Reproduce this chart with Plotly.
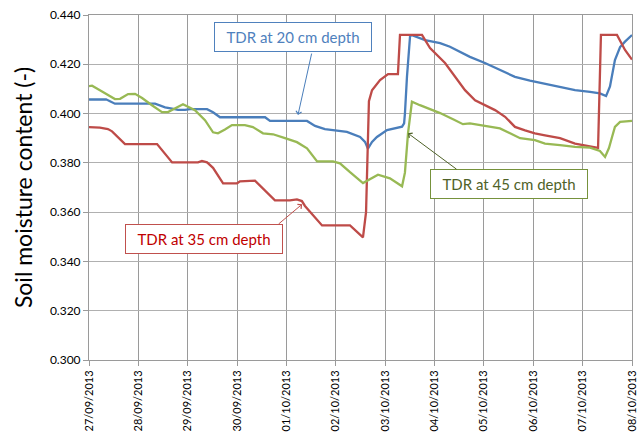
import pandas as pd
import plotly.graph_objects as go

START = pd.Timestamp("2013-09-27")

# hours since 27/09/2013 00:00 and soil moisture readings
hours_20 = [0, 8.3, 10.2, 12.6, 32.1, 37.0, 40.4, 43.3, 46.7, 49.1, 57.4, 60.3, 63.7,
            71.5, 73.4, 85.6, 88.0, 106.0, 109.9, 114.7, 119.6, 125.4, 131.8, 134.2,
            135.6, 137.6, 140.0, 144.9, 152.2, 153.2, 153.6, 154.6, 156.1, 157.0,
            163.4, 170.7, 175.5, 185.2, 192.5, 199.8, 207.1, 214.4, 221.7, 229.0,
            236.3, 243.6, 248.4, 251.4, 253.3, 255.7, 258.2, 260.6, 264.0]
tdr_20 = [0.4057, 0.4058, 0.4050, 0.4040, 0.4040, 0.4025, 0.4020, 0.4015, 0.4015,
          0.4018, 0.4018, 0.4005, 0.3985, 0.3985, 0.3988, 0.3985, 0.3970, 0.3970,
          0.3950, 0.3937, 0.3932, 0.3926, 0.3905, 0.3885, 0.3858, 0.3885, 0.3905,
          0.3933, 0.3947, 0.3960, 0.4000, 0.4150, 0.4315, 0.4318, 0.4298, 0.4286,
          0.4271, 0.4230, 0.4205, 0.4176, 0.4149, 0.4134, 0.4122, 0.4109, 0.4095,
          0.4088, 0.4082, 0.4071, 0.4110, 0.4217, 0.4270, 0.4292, 0.4319]

hours_35 = [0, 5.3, 9.2, 11.2, 17.5, 33.1, 40.4, 53.0, 54.9, 57.4, 60.3, 65.2, 72.0,
            73.4, 80.7, 84.1, 90.4, 97.7, 101.1, 103.5, 105.0, 113.3, 126.9, 133.2,
            134.7, 136.1, 137.6, 141.5, 145.4, 150.2, 151.2, 161.9, 165.8, 173.1,
            177.9, 182.8, 187.7, 192.5, 197.4, 202.3, 207.1, 212.0, 216.8, 221.7,
            229.0, 236.3, 243.6, 247.5, 248.9, 256.7, 260.6, 264.0]
tdr_35 = [0.3945, 0.3943, 0.3937, 0.3928, 0.3876, 0.3876, 0.3802, 0.3802, 0.3808,
          0.3802, 0.3780, 0.3717, 0.3717, 0.3725, 0.3728, 0.3700, 0.3648, 0.3648,
          0.3652, 0.3645, 0.3625, 0.3546, 0.3546, 0.3498, 0.3600, 0.4050, 0.4095,
          0.4136, 0.4160, 0.4160, 0.4319, 0.4319, 0.4266, 0.4205, 0.4148, 0.4095,
          0.4054, 0.4034, 0.4014, 0.3987, 0.3946, 0.3932, 0.3920, 0.3912, 0.3900,
          0.3878, 0.3867, 0.3861, 0.4319, 0.4319, 0.4258, 0.4219]

hours_45 = [0, 1.5, 5.3, 9.2, 12.6, 15.1, 19.0, 22.4, 25.8, 30.6, 35.5, 38.4, 41.8,
            45.7, 51.5, 56.4, 60.3, 62.7, 66.1, 69.5, 75.8, 79.7, 84.6, 89.5, 95.3,
            101.1, 106.0, 110.9, 118.6, 122.0, 126.9, 133.2, 140.5, 146.3, 152.2,
            153.6, 155.1, 157.0, 160.9, 170.7, 177.0, 181.8, 185.2, 190.1, 194.9,
            199.8, 204.7, 209.6, 216.8, 221.7, 229.0, 236.3, 243.6, 248.4, 250.9,
            252.8, 254.3, 255.7, 258.2, 264.0]
tdr_45 = [0.4111, 0.4113, 0.4095, 0.4075, 0.4059, 0.4060, 0.4079, 0.4080, 0.4063,
          0.4034, 0.4006, 0.4006, 0.4022, 0.4038, 0.4014, 0.3973, 0.3924, 0.3920,
          0.3935, 0.3953, 0.3953, 0.3945, 0.3920, 0.3916, 0.3900, 0.3884, 0.3859,
          0.3806, 0.3806, 0.3798, 0.3762, 0.3718, 0.3752, 0.3737, 0.3705, 0.3760,
          0.3920, 0.4048, 0.4034, 0.4002, 0.3977, 0.3957, 0.3960, 0.3953, 0.3949,
          0.3940, 0.3920, 0.3900, 0.3892, 0.3878, 0.3872, 0.3865, 0.3862, 0.3848,
          0.3824, 0.3860, 0.3905, 0.3946, 0.3966, 0.3970]

y_ticks = [0.300, 0.320, 0.340, 0.360, 0.380, 0.400, 0.420, 0.440]


def to_time(hours):
    return START + pd.to_timedelta(hours, unit="h")


BLUE = "#4A7EBB"
RED = "#BE4B48"
GREEN = "#98B954"
FONT = "Lato, 'Open Sans', sans-serif"

fig = go.Figure()
for hrs, vals, col, name in [(hours_20, tdr_20, BLUE, "TDR at 20 cm depth"),
                             (hours_35, tdr_35, RED, "TDR at 35 cm depth"),
                             (hours_45, tdr_45, GREEN, "TDR at 45 cm depth")]:
    fig.add_trace(go.Scatter(
        x=to_time(hrs), y=vals, mode="lines", name=name,
        line=dict(color=col, width=2.3)
    ))

# label boxes (no arrows) and separate arrows
boxes = [
    ("TDR at 20 cm depth", 0.3757, 0.9348, "#4F81BD", "#4F81BD"),
    ("TDR at 35 cm depth", 0.2118, 0.351, "#C00000", "#C0504D"),
    ("TDR at 45 cm depth", 0.7735, 0.5101, "#4F6228", "#76923C"),
]
for text, px, py, tcol, bcol in boxes:
    fig.add_annotation(
        x=px, y=py, xref="paper", yref="paper", text=text, showarrow=False,
        font=dict(family=FONT, size=15, color=tcol),
        bgcolor="white", bordercolor=bcol, borderwidth=1, borderpad=3,
        width=150, height=22, xanchor="center", yanchor="middle"
    )

arrows = [
    (101.6, 0.3994, 14, -63, BLUE),
    (103.6, 0.3632, -25, 21, "#C0504D"),
    (155.1, 0.3920, 50, 37, "#4F6228"),
]
for hrs, val, ax, ay, col in arrows:
    fig.add_annotation(
        x=to_time(hrs), y=val, xref="x", yref="y", text="", showarrow=True,
        ax=ax, ay=ay, arrowhead=4, arrowsize=1.1, arrowwidth=1, arrowcolor=col
    )

fig.update_xaxes(
    range=[START, START + pd.Timedelta(days=11)],
    dtick=86400000, tick0=START, tickformat="%d/%m/%Y", tickangle=-90,
    showgrid=True, gridcolor="#9A9A9A", gridwidth=1,
    showline=True, linecolor="#9A9A9A", mirror=True,
    ticks="outside", ticklen=5, tickcolor="#9A9A9A",
    tickfont=dict(family=FONT, size=11, color="black"),
    zeroline=False, automargin=False
)
fig.update_yaxes(
    range=[0.300, 0.440], tickvals=y_ticks, tickformat=".3f",
    showgrid=True, gridcolor="#B0B0B0", gridwidth=1,
    showline=True, linecolor="#9A9A9A", mirror=True,
    ticks="outside", ticklen=5, tickcolor="#9A9A9A",
    tickfont=dict(family=FONT, size=12, color="black"),
    title=dict(text="Soil moisture content (-)", standoff=10,
               font=dict(family=FONT, size=23, color="black")),
    zeroline=False, automargin=False
)

fig.update_layout(
    width=644, height=432,
    margin=dict(l=89, r=12, t=15, b=72),
    showlegend=False,
    plot_bgcolor="white", paper_bgcolor="white",
)

# drop the browser's default body margin so the figure sits at the page corner
fig.write_html("out.html", config={"displayModeBar": False},
               post_script="document.body.style.margin = '0px';")
